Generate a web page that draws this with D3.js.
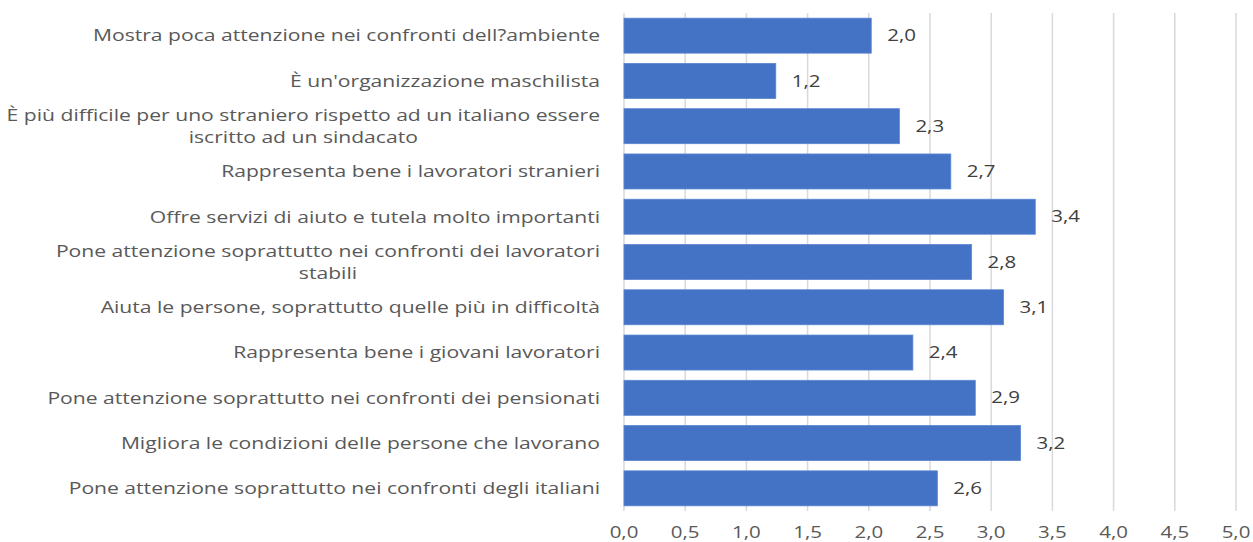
<!DOCTYPE html>
<html>
<head>
<meta charset="utf-8">
<script src="https://cdn.jsdelivr.net/npm/d3@7"></script>
<style>
	body { margin: 0; background: #fff; }
	svg { display: block; font-family: "Open Sans", "DejaVu Sans", sans-serif; }
</style>
</head>
<body>
<svg></svg>
<script>
	const categories = [
		['Mostra poca attenzione nei confronti dell?ambiente'],
		['È un\'organizzazione maschilista'],
		['È più difficile per uno straniero rispetto ad un italiano essere', 'iscritto ad un sindacato'],
		['Rappresenta bene i lavoratori stranieri'],
		['Offre servizi di aiuto e tutela molto importanti'],
		['Pone attenzione soprattutto nei confronti dei lavoratori', 'stabili'],
		['Aiuta le persone, soprattutto quelle più in difficoltà'],
		['Rappresenta bene i giovani lavoratori'],
		['Pone attenzione soprattutto nei confronti dei pensionati'],
		['Migliora le condizioni delle persone che lavorano'],
		['Pone attenzione soprattutto nei confronti degli italiani']
	];
	const values = [2.02, 1.24, 2.25, 2.67, 3.36, 2.84, 3.10, 2.36, 2.87, 3.24, 2.56];
	const ticks = [0, 0.5, 1, 1.5, 2, 2.5, 3, 3.5, 4, 4.5, 5];

	const width = 1253;
	const height = 542;
	const stretch = 1.28; // the reference text is drawn wide

	const svg = d3.select('svg')
		.attr('width', width)
		.attr('height', height);

	const x = d3.scaleLinear()
		.domain([0, 5])
		.range([624, 1236]);

	const y = d3.scaleBand()
		.domain(d3.range(categories.length))
		.range([13, 511])
		.paddingInner(0.227)
		.paddingOuter(0.114);

	const fmt = (v) => d3.format('.1f')(v).replace('.', ',');

	// gridlines
	svg.append('g')
		.selectAll('line')
		.data(ticks)
		.enter()
			.append('line')
			.attr('x1', d => x(d))
			.attr('x2', d => x(d))
			.attr('y1', 13)
			.attr('y2', 511)
			.attr('stroke', '#d9d9d9')
			.attr('stroke-width', 1.5);

	// tick labels
	svg.append('g')
		.selectAll('text')
		.data(ticks)
		.enter()
			.append('text')
			.attr('transform', d => 'translate(' + x(d) + ',532) scale(' + stretch + ',1)')
			.attr('dy', '0.35em')
			.attr('text-anchor', 'middle')
			.attr('fill', '#595959')
			.style('font-size', '16px')
			.text(d => fmt(d));

	// bars
	svg.append('g')
		.selectAll('rect')
		.data(values)
		.enter()
			.append('rect')
			.attr('x', x(0))
			.attr('y', (d, i) => y(i))
			.attr('width', d => x(d) - x(0))
			.attr('height', y.bandwidth())
			.attr('fill', '#4472c4')
			.attr('stroke', '#5b86d2')
			.attr('stroke-width', 0.8);

	// value labels
	svg.append('g')
		.selectAll('text')
		.data(values)
		.enter()
			.append('text')
			.attr('transform', (d, i) => 'translate(' + (x(d) + 16) + ',' + (y(i) + y.bandwidth() / 2) + ') scale(' + stretch + ',1)')
			.attr('dy', '0.35em')
			.attr('fill', '#404040')
			.style('font-size', '16px')
			.text(d => fmt(d));

	// category labels, multi-line centred in a right-aligned block
	const lineH = 22;
	const labels = svg.append('g')
		.selectAll('g')
		.data(categories)
		.enter()
			.append('g')
			.attr('transform', (d, i) => 'translate(600,' + (y(i) + y.bandwidth() / 2) + ') scale(' + stretch + ',1)');

	labels.each(function (lines) {
		const g = d3.select(this);
		const texts = lines.map((t, j) => g.append('text')
			.attr('y', (j - (lines.length - 1) / 2) * lineH)
			.attr('dy', '0.35em')
			.attr('fill', '#595959')
			.style('font-size', '16.5px')
			.text(t));
		const maxW = d3.max(texts, t => t.node().getComputedTextLength());
		texts.forEach((t) => {
			t.attr('x', -maxW / 2).attr('text-anchor', 'middle');
		});
	});
</script>
</body>
</html>
